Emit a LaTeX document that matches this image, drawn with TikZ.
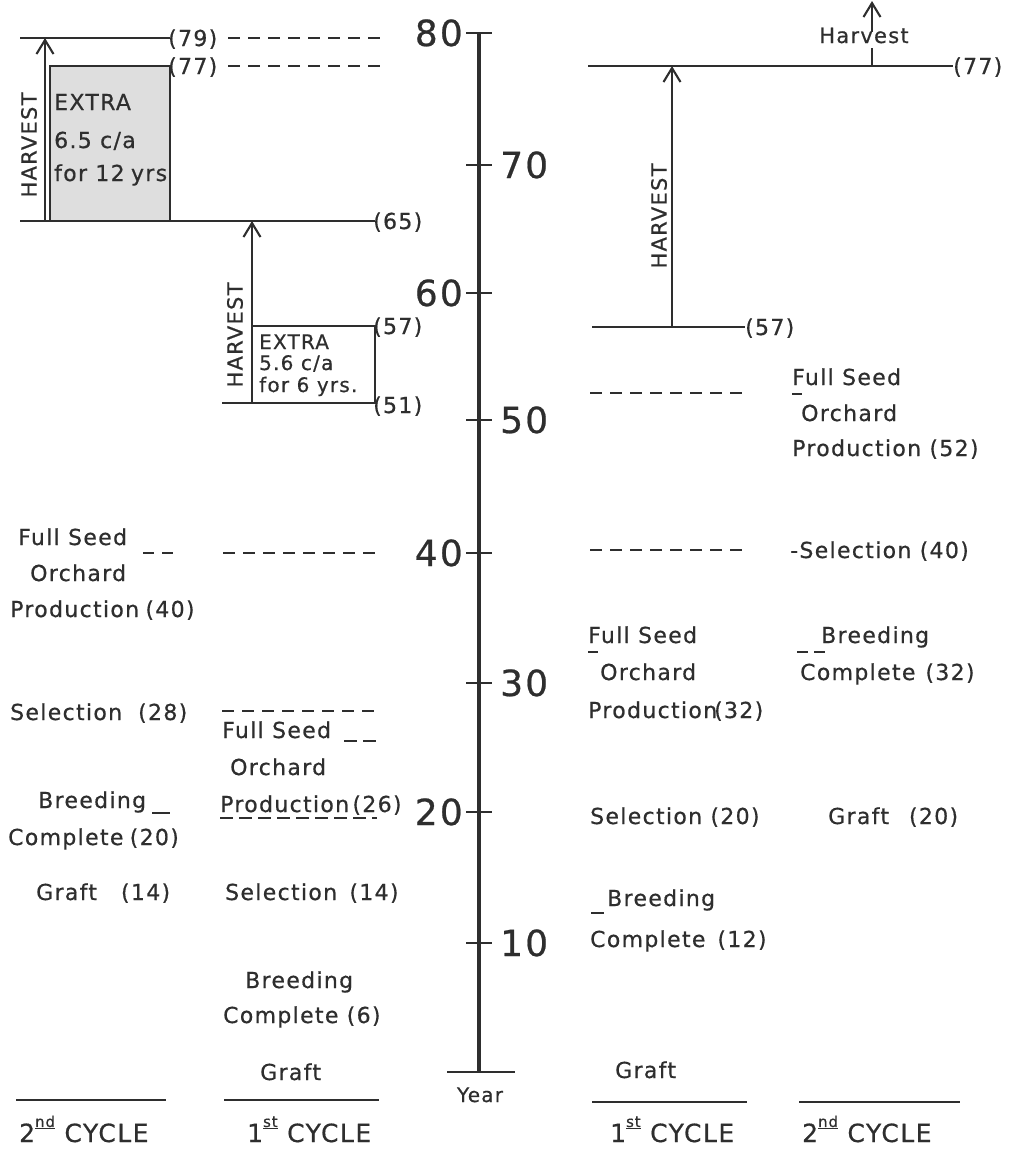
\documentclass[tikz,border=0pt]{standalone}
\usepackage{fontspec}
\setmainfont{DejaVu Sans}[LetterSpace=6, FakeBold=0.6]
\usetikzlibrary{arrows.meta}
\definecolor{inkc}{gray}{0.18}
\tikzset{
  ink/.style={draw=inkc, line width=2.1pt},
  dashline/.style={ink, dash pattern=on 12pt off 8pt},
  arr/.style={ink, -{Straight Barb[length=14pt,width=17pt,line width=2.1pt]}},
  lab/.style={inner sep=0pt, anchor=base west, text=inkc, font=\fontsize{22}{26}\selectfont},
  boxt/.style={inner sep=0pt, anchor=base west, text=inkc, font=\fontsize{22}{26}\selectfont},
  boxs/.style={inner sep=0pt, anchor=base west, text=inkc, font=\fontsize{20}{22}\selectfont},
  paren/.style={inner sep=0pt, anchor=base west, text=inkc, font=\fontsize{22}{26}\selectfont},
  num/.style={inner sep=0pt, text=inkc, font=\fontsize{36}{40}\selectfont},
  harv/.style={inner sep=0pt, rotate=90, text=inkc, font=\fontsize{21}{24}\selectfont},
  cyc/.style={inner sep=0pt, anchor=base west, text=inkc, font=\fontsize{25}{28}\selectfont},
}
\newcommand{\supu}[1]{\raisebox{1.1ex}{\fontsize{15}{16}\selectfont\underline{#1}}}
\begin{document}
\begin{tikzpicture}[x=1pt,y=-1pt]
\useasboundingbox (0,0) rectangle (1013,1149);

% ---------------- axis ----------------
\coordinate (axtop) at (479,33);
\coordinate (axbot) at (479,1072);
\draw[draw=inkc, line width=3.4pt] (axtop) -- (axbot);
\draw[ink, line width=2.6pt] (447,1072) coordinate (b1) -- (515,1072) coordinate (b2);
\foreach \yy/\nm in {33/t80,165/t70,293/t60,420/t50,553/t40,683/t30,812/t20,943/t10}{
  \draw[ink] (466,\yy) coordinate (\nm a) -- (492,\yy) coordinate (\nm b);
}
\node[num, anchor=base east] (n80) at (463,46) {80};
\node[num, anchor=base west] (n70) at (500,178) {70};
\node[num, anchor=base east] (n60) at (463,306) {60};
\node[num, anchor=base west] (n50) at (500,433) {50};
\node[num, anchor=base east] (n40) at (463,566) {40};
\node[num, anchor=base west] (n30) at (500,696) {30};
\node[num, anchor=base east] (n20) at (463,825) {20};
\node[num, anchor=base west] (n10) at (500,956) {10};
\node[inner sep=0pt, anchor=base, text=inkc, font=\fontsize{20}{22}\selectfont] (year) at (480,1102) {Year};

% ---------------- left top: 2nd cycle harvest ----------------
\draw[ink, fill=black!13] (50,66) coordinate (bx1a) rectangle (170,221) coordinate (bx1b);
\draw[ink] (20,38) coordinate (l79a) -- (170,38) coordinate (l79b);
\node[paren] (p79) at (168,46) {(79)};
\draw[dashline] (228,38) coordinate (d79a) -- (385,38) coordinate (d79b);
\node[paren] (p77) at (168,74) {(77)};
\draw[dashline] (228,66) coordinate (d77a) -- (385,66) coordinate (d77b);
\draw[ink] (20,221) coordinate (l65a) -- (375,221) coordinate (l65b);
\node[paren] (p65) at (373,229) {(65)};
\draw[arr] (45,221) coordinate (a1s) -- (45,38) coordinate (a1e);
\node[harv] (h1) at (29,145) {HARVEST};
\node[boxt] (e1a) at (54,110) {EXTRA};
\node[boxt] (e1b) at (54,148) {6.5 c/a};
\node[boxt] (e1c) at (54,181) {for 12\hspace{-2pt} yrs};

% ---------------- left: 1st cycle harvest ----------------
\draw[ink] (252,326) coordinate (bx2a) rectangle (375,403) coordinate (bx2b);
\draw[ink] (222,403) coordinate (l51a) -- (375,403) coordinate (l51b);
\draw[arr] (252,403) coordinate (a2s) -- (252,221) coordinate (a2e);
\node[harv] (h2) at (235,335) {HARVEST};
\node[paren] (p57) at (373,334) {(57)};
\node[paren] (p51) at (373,413) {(51)};
\node[boxs] (e2a) at (259,349) {EXTRA};
\node[boxs] (e2b) at (259,370) {5.6 c/a};
\node[boxs] (e2c) at (259,392) {for 6 yrs.};

% ---------------- left 2nd cycle labels ----------------
\node[lab] (L2fs) at (18,545) {Full Seed};
\draw[ink, dash pattern=on 11pt off 8pt] (143,553) coordinate (L2da) -- (175,553) coordinate (L2db);
\draw[dashline] (223,553) coordinate (L1da) -- (378,553) coordinate (L1db);
\node[lab] (L2or) at (30,581) {Orchard};
\node[lab] (L2pr) at (10,617) {Production\hspace{-2pt} (40)};
\node[lab] (L2se) at (10,720) {Selection\hspace{16pt}(28)};
\node[lab] (L2br) at (38,808) {Breeding};
\draw[ink] (152,813) coordinate (L2ba) -- (170,813) coordinate (L2bb);
\node[lab] (L2co) at (8,845) {Complete\hspace{-2pt} (20)};
\node[lab] (L2gr) at (36,900) {Graft\hspace{24pt}(14)};

% ---------------- left 1st cycle labels ----------------
\draw[dashline] (222,711) coordinate (L1sa) -- (378,711) coordinate (L1sb);
\node[lab] (L1fs) at (222,738) {Full Seed};
\draw[ink, dash pattern=on 13pt off 6pt] (344,741) coordinate (L1ua) -- (378,741) coordinate (L1ub);
\node[lab] (L1or) at (230,775) {Orchard};
\node[lab] (L1pr) at (220,812) {Production\hspace{-5pt} (26)};
\draw[ink, dash pattern=on 13pt off 6pt] (220,818) coordinate (L1pa) -- (377,818) coordinate (L1pb);
\node[lab] (L1se) at (225,900) {Selection\hspace{4pt} (14)};
\node[lab] (L1br) at (245,988) {Breeding};
\node[lab] (L1co) at (223,1023) {Complete (6)};
\node[lab] (L1gr) at (260,1080) {Graft};

% ---------------- bottom captions ----------------
\draw[ink] (16,1100) coordinate (c1a) -- (166,1100) coordinate (c1b);
\draw[ink] (224,1100) coordinate (c2a) -- (379,1100) coordinate (c2b);
\draw[ink] (592,1102) coordinate (c3a) -- (747,1102) coordinate (c3b);
\draw[ink] (799,1102) coordinate (c4a) -- (960,1102) coordinate (c4b);
\node[cyc] (cy1) at (19,1142) {2\supu{nd} CYCLE};
\node[cyc] (cy2) at (247,1142) {1\supu{st} CYCLE};
\node[cyc] (cy3) at (610,1142) {1\supu{st} CYCLE};
\node[cyc] (cy4) at (802,1142) {2\supu{nd} CYCLE};

% ---------------- right side ----------------
\draw[ink] (588,66) coordinate (r77a) -- (953,66) coordinate (r77b);
\node[paren] (rp77) at (953,74) {(77)};
\draw[ink] (872,66) coordinate (st1) -- (872,48) coordinate (st2);
\draw[arr] (872,32) coordinate (a4s) -- (872,1) coordinate (a4e);
\node[inner sep=0pt, anchor=base, text=inkc, font=\fontsize{21}{24}\selectfont] (hv) at (864,43) {Harvest};
\draw[ink] (592,327) coordinate (r57a) -- (745,327) coordinate (r57b);
\node[paren] (rp57) at (745,335) {(57)};
\draw[arr] (672,327) coordinate (a3s) -- (672,66) coordinate (a3e);
\node[harv] (h3) at (659,216) {HARVEST};

\draw[dashline] (590,393) coordinate (r52a) -- (746,393) coordinate (r52b);
\node[lab] (R2fs) at (792,385) {Full Seed};
\draw[ink] (792,394) coordinate (R2fa) -- (802,394) coordinate (R2fb);
\node[lab] (R2or) at (801,421) {Orchard};
\node[lab] (R2pr) at (792,456) {Production (52)};

\draw[dashline] (590,550) coordinate (r40a) -- (746,550) coordinate (r40b);
\node[lab] (R2se) at (790,558) {-Selection (40)};

\node[lab] (R1fs) at (588,643) {Full Seed};
\draw[ink] (588,652) coordinate (R1fa) -- (598,652) coordinate (R1fb);
\node[lab] (R1or) at (600,680) {Orchard};
\node[lab] (R1pr) at (588,718) {Production\hspace{-3pt}(32)};
\node[lab] (R2br) at (821,643) {Breeding};
\draw[ink, dash pattern=on 11pt off 6pt] (797,652) coordinate (R2ba) -- (826,652) coordinate (R2bb);
\node[lab] (R2co) at (800,680) {Complete\hspace{10pt}(32)};

\node[lab] (R1se) at (590,824) {Selection (20)};
\node[lab] (R2gr) at (828,824) {Graft\hspace{20pt}(20)};

\draw[ink] (591,913) coordinate (R1ba) -- (604,913) coordinate (R1bb);
\node[lab] (R1br) at (607,906) {Breeding};
\node[lab] (R1co) at (590,947) {Complete\hspace{12pt}(12)};
\node[lab] (R1gr) at (615,1078) {Graft};
\end{tikzpicture}
\end{document}
